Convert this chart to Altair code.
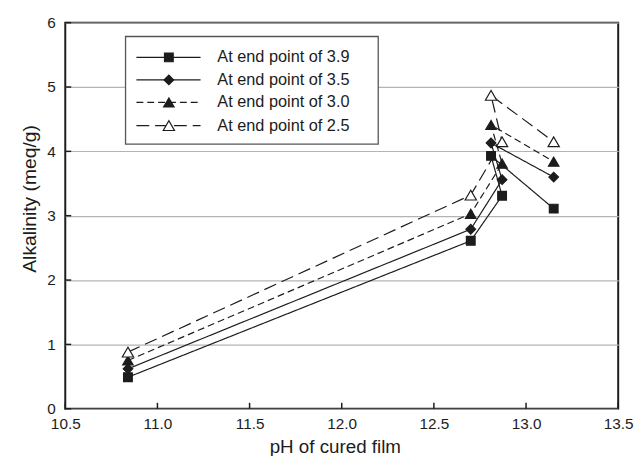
import altair as alt
import pandas as pd

# ---- data ----
series = ["At end point of 3.9", "At end point of 3.5",
          "At end point of 3.0", "At end point of 2.5"]
# pH values in the order the points are joined
ph_cured = [10.84, 12.70, 12.87, 12.81, 13.15]
alk_39 = [0.49, 2.61, 3.31, 3.93, 3.11]
alk_35 = [0.62, 2.79, 3.56, 4.13, 3.60]
alk_30 = [0.75, 3.03, 3.81, 4.41, 3.84]
alk_25 = [0.88, 3.32, 4.15, 4.87, 4.15]
x_ticks = [10.5, 11.0, 11.5, 12.0, 12.5, 13.0, 13.5]
y_ticks = [0, 1, 2, 3, 4, 5, 6]

rows = []
for s, vals in zip(series, [alk_39, alk_35, alk_30, alk_25]):
    for i, (x, y) in enumerate(zip(ph_cured, vals)):
        rows.append({"series": s, "ph": x, "alk": y, "idx": i})
df = pd.DataFrame(rows)

W, H = 560, 391
INK = "#1c1c1c"
FONT = "Liberation Sans"

xscale = alt.Scale(domain=[10.5, 13.5], nice=False, zero=False)
yscale = alt.Scale(domain=[0, 6], nice=False, zero=False)

x_axis = alt.Axis(values=x_ticks, format=".1f", ticks=False, domain=False, grid=False,
                  labelPadding=8, labelFlush=False, labelOverlap=False,
                  labelFontSize=15.5, labelFont=FONT, labelColor=INK,
                  title="pH of cured film", titleFontSize=19, titleFont=FONT,
                  titleFontWeight="normal", titleColor=INK,
                  titleX=273, titleY=38, titleBaseline="middle", titleAlign="center")
y_axis = alt.Axis(values=y_ticks, format="d", ticks=False, domain=False, grid=True,
                  gridColor="#b4b4b4", gridWidth=1.2,
                  labelPadding=10, labelFontSize=15.5, labelFont=FONT, labelColor=INK,
                  labelFlush=False, labelOverlap=False,
                  title="Alkalinity (meq/g)", titleFontSize=19.5, titleFont=FONT,
                  titleFontWeight="normal", titleColor=INK,
                  titleX=-36, titleY=178, titleAngle=270,
                  titleBaseline="middle", titleAlign="center")

def X(field):
    return alt.X(field, scale=xscale, axis=x_axis)

def Y(field):
    return alt.Y(field, scale=yscale, axis=y_axis)

dash = alt.StrokeDash("series:N", scale=alt.Scale(domain=series,
                      range=[[1, 0], [1, 0], [7, 4], [13, 6]]), legend=None)
shape = alt.Shape("series:N", scale=alt.Scale(domain=series,
                  range=["square", "diamond", "triangle-up", "triangle-up"]), legend=None)
fill = alt.Fill("series:N", scale=alt.Scale(domain=series,
                range=[INK, INK, INK, "white"]), legend=None)
size = alt.Size("series:N", scale=alt.Scale(domain=series,
                range=[78, 130, 110, 110]), legend=None)

lines = alt.Chart(df).mark_line(color=INK, strokeWidth=1.2).encode(
    x=X("ph:Q"), y=Y("alk:Q"), strokeDash=dash, detail="series:N", order="idx:Q")

points = alt.Chart(df).mark_point(filled=True, stroke=INK, strokeWidth=1.2, opacity=1).encode(
    x=X("ph:Q"), y=Y("alk:Q"), shape=shape, fill=fill, size=size)

# inward tick marks
xt = pd.DataFrame({"t": x_ticks})
yt = pd.DataFrame({"t": y_ticks})
xtick_marks = alt.Chart(xt).mark_rule(color=INK, strokeWidth=1.5).encode(
    x=X("t:Q"), y=alt.value(H), y2=alt.value(H - 6))
ytick_marks = alt.Chart(yt).mark_rule(color=INK, strokeWidth=1.5).encode(
    y=Y("t:Q"), x=alt.value(0), x2=alt.value(6))

# legend (drawn in data coordinates)
LEG_LEFT, LEG_RIGHT, LEG_TOP, LEG_BOTTOM = 10.827, 12.198, 5.785, 4.112
LINE_A, LINE_B, MARK_X, TEXT_X = 10.886, 11.234, 11.062, 11.325
ROW_Y = [5.46, 5.11, 4.76, 4.40]
leg = pd.DataFrame({"series": series, "ly": ROW_Y})

box = alt.Chart(alt.Data(values=[{}])).mark_rect(
    fill="white", stroke="#555555", strokeWidth=1.3).encode(
    x=alt.X(datum=LEG_LEFT, scale=xscale, axis=x_axis),
    x2=alt.X2(datum=LEG_RIGHT),
    y=alt.Y(datum=LEG_TOP, scale=yscale, axis=y_axis),
    y2=alt.Y2(datum=LEG_BOTTOM))
leg_lines = alt.Chart(leg).mark_rule(color=INK, strokeWidth=1.2).encode(
    x=alt.X(datum=LINE_A, scale=xscale, axis=x_axis), x2=alt.X2(datum=LINE_B),
    y=Y("ly:Q"), strokeDash=dash)
leg_points = alt.Chart(leg).mark_point(filled=True, stroke=INK, strokeWidth=1.2, opacity=1).encode(
    x=alt.X(datum=MARK_X, scale=xscale, axis=x_axis), y=Y("ly:Q"),
    shape=shape, fill=fill, size=size)
leg_text = alt.Chart(leg).mark_text(align="left", baseline="middle", font=FONT,
                                    fontSize=16.5, color=INK).encode(
    x=alt.X(datum=TEXT_X, scale=xscale, axis=x_axis), y=Y("ly:Q"), text="series:N")

chart = alt.layer(
    lines, points, xtick_marks, ytick_marks, box, leg_lines, leg_points, leg_text
).properties(
    width=W, height=H,
    autosize=alt.AutoSizeParams(type="none"),
    padding={"left": 58, "top": 12, "right": 16, "bottom": 45},
    background="white",
).configure_view(stroke=INK, strokeWidth=2)

chart.save("out.html", embed_options={"renderer": "svg", "actions": False})
